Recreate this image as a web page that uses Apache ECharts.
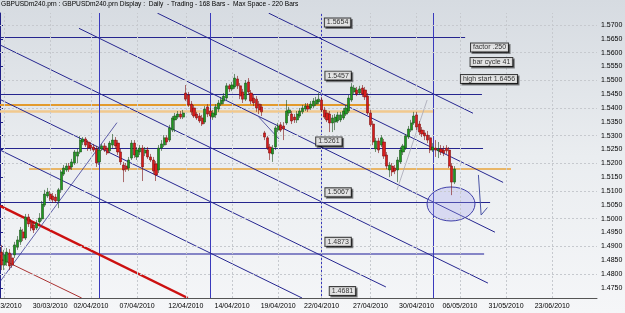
<!DOCTYPE html>
<html><head><meta charset="utf-8">
<script src="https://cdn.jsdelivr.net/npm/echarts@6.0.0/dist/echarts.min.js"></script>
<style>html,body{margin:0;padding:0;background:#eef0f3;}#c{width:625px;height:313px;}</style>
</head><body><div id="c"></div><script>
// ---- data (prices) ----
const opens = [
1.4879,1.4832,1.4843,1.4876,1.4858,1.4869,1.4897,1.4916,1.4952,1.4930,
1.5006,1.4988,1.4977,1.4966,1.4988,1.4999,1.5049,1.5082,1.5089,1.5082,
1.5078,1.5064,1.5104,1.5161,1.5176,1.5190,1.5187,1.5201,1.5226,1.5241,
1.5277,1.5288,1.5277,1.5266,1.5259,1.5252,1.5205,1.5252,1.5263,1.5255,
1.5245,1.5266,1.5284,1.5273,1.5241,1.5194,1.5190,1.5183,1.5219,1.5273,
1.5223,1.5241,1.5255,1.5237,1.5248,1.5223,1.5212,1.5198,1.5176,1.5255,
1.5266,1.5292,1.5284,1.5320,1.5357,1.5367,1.5378,1.5367,1.5454,1.5447,
1.5414,1.5400,1.5378,1.5371,1.5364,1.5349,1.5404,1.5389,1.5367,1.5375,
1.5396,1.5414,1.5425,1.5436,1.5480,1.5469,1.5476,1.5505,1.5480,1.5458,
1.5432,1.5494,1.5454,1.5436,1.5432,1.5414,1.5404,1.5310,1.5292,1.5259,
1.5234,1.5259,1.5320,1.5339,1.5335,1.5346,1.5382,1.5378,1.5367,1.5357,
1.5371,1.5386,1.5396,1.5407,1.5400,1.5407,1.5414,1.5422,1.5429,1.5393,
1.5382,1.5378,1.5346,1.5349,1.5353,1.5357,1.5364,1.5378,1.5389,1.5429,
1.5458,1.5465,1.5454,1.5472,1.5465,1.5443,1.5382,1.5342,1.5252,1.5281,
1.5266,1.5277,1.5230,1.5176,1.5190,1.5183,1.5176,1.5205,1.5241,1.5255,
1.5295,1.5320,1.5346,1.5375,1.5342,1.5320,1.5310,1.5302,1.5292,1.5248,
1.5255,1.5245,1.5252,1.5248,1.5255,1.5248,1.5190,1.5132];
const closes = [
1.4832,1.4869,1.4879,1.4829,1.4832,1.4905,1.4923,1.4959,1.4930,1.5006,
1.4981,1.4966,1.4959,1.4984,1.5002,1.5053,1.5089,1.5096,1.5071,1.5067,
1.5064,1.5104,1.5169,1.5183,1.5190,1.5179,1.5205,1.5241,1.5241,1.5284,
1.5288,1.5266,1.5255,1.5255,1.5248,1.5201,1.5248,1.5263,1.5248,1.5237,
1.5273,1.5284,1.5263,1.5241,1.5205,1.5176,1.5179,1.5212,1.5273,1.5230,
1.5248,1.5255,1.5187,1.5248,1.5223,1.5212,1.5172,1.5158,1.5255,1.5270,
1.5292,1.5277,1.5328,1.5364,1.5371,1.5378,1.5367,1.5382,1.5432,1.5411,
1.5386,1.5371,1.5364,1.5353,1.5342,1.5396,1.5378,1.5371,1.5382,1.5404,
1.5418,1.5429,1.5443,1.5480,1.5469,1.5483,1.5508,1.5480,1.5443,1.5432,
1.5490,1.5458,1.5425,1.5418,1.5400,1.5393,1.5386,1.5295,1.5255,1.5237,
1.5255,1.5328,1.5335,1.5320,1.5324,1.5389,1.5393,1.5353,1.5357,1.5378,
1.5389,1.5400,1.5407,1.5396,1.5414,1.5425,1.5429,1.5432,1.5393,1.5367,
1.5357,1.5346,1.5364,1.5367,1.5375,1.5375,1.5389,1.5400,1.5436,1.5476,
1.5472,1.5451,1.5469,1.5451,1.5440,1.5382,1.5339,1.5277,1.5281,1.5248,
1.5292,1.5226,1.5190,1.5194,1.5169,1.5172,1.5212,1.5248,1.5263,1.5299,
1.5324,1.5346,1.5371,1.5331,1.5313,1.5306,1.5299,1.5284,1.5248,1.5259,
1.5248,1.5252,1.5241,1.5237,1.5245,1.5190,1.5132,1.5179];
const lows = [
1.4814,1.4814,1.4829,1.4814,1.4822,1.4858,1.4887,1.4905,1.4919,1.4923,
1.4970,1.4955,1.4948,1.4959,1.4977,1.4991,1.5042,1.5075,1.5064,1.5057,
1.5057,1.5038,1.5093,1.5154,1.5169,1.5169,1.5176,1.5194,1.5201,1.5234,
1.5266,1.5259,1.5245,1.5245,1.5241,1.5187,1.5194,1.5245,1.5241,1.5230,
1.5237,1.5255,1.5252,1.5230,1.5194,1.5132,1.5169,1.5172,1.5212,1.5219,
1.5212,1.5230,1.5136,1.5226,1.5216,1.5205,1.5161,1.5136,1.5165,1.5245,
1.5259,1.5266,1.5277,1.5313,1.5313,1.5360,1.5360,1.5360,1.5425,1.5404,
1.5375,1.5364,1.5357,1.5346,1.5335,1.5342,1.5367,1.5360,1.5357,1.5364,
1.5386,1.5407,1.5414,1.5429,1.5458,1.5461,1.5469,1.5469,1.5432,1.5418,
1.5425,1.5447,1.5414,1.5407,1.5386,1.5378,1.5371,1.5284,1.5248,1.5212,
1.5205,1.5248,1.5313,1.5313,1.5284,1.5339,1.5371,1.5342,1.5346,1.5346,
1.5364,1.5378,1.5389,1.5386,1.5393,1.5400,1.5407,1.5414,1.5386,1.5360,
1.5349,1.5313,1.5313,1.5320,1.5346,1.5349,1.5357,1.5371,1.5382,1.5422,
1.5451,1.5443,1.5447,1.5440,1.5429,1.5375,1.5331,1.5266,1.5241,1.5237,
1.5259,1.5216,1.5179,1.5150,1.5154,1.5161,1.5132,1.5198,1.5230,1.5248,
1.5288,1.5313,1.5339,1.5320,1.5302,1.5295,1.5284,1.5273,1.5237,1.5241,
1.5223,1.5219,1.5230,1.5226,1.5234,1.5183,1.5085,1.5125];
const highs = [
1.4905,1.4887,1.4894,1.4890,1.4872,1.4916,1.4937,1.4970,1.4963,1.5017,
1.5017,1.4999,1.4988,1.4995,1.5020,1.5064,1.5104,1.5111,1.5100,1.5093,
1.5089,1.5111,1.5176,1.5194,1.5201,1.5201,1.5216,1.5248,1.5252,1.5299,
1.5295,1.5295,1.5284,1.5277,1.5270,1.5263,1.5259,1.5270,1.5273,1.5263,
1.5281,1.5306,1.5295,1.5284,1.5252,1.5205,1.5201,1.5223,1.5284,1.5284,
1.5259,1.5266,1.5266,1.5259,1.5259,1.5234,1.5223,1.5208,1.5266,1.5284,
1.5302,1.5302,1.5339,1.5371,1.5382,1.5389,1.5389,1.5393,1.5483,1.5458,
1.5425,1.5411,1.5386,1.5382,1.5375,1.5407,1.5414,1.5400,1.5393,1.5414,
1.5429,1.5440,1.5454,1.5490,1.5487,1.5494,1.5523,1.5516,1.5490,1.5469,
1.5501,1.5508,1.5465,1.5447,1.5443,1.5425,1.5414,1.5317,1.5299,1.5270,
1.5266,1.5335,1.5346,1.5349,1.5349,1.5429,1.5404,1.5389,1.5378,1.5389,
1.5400,1.5411,1.5418,1.5418,1.5425,1.5436,1.5440,1.5454,1.5440,1.5404,
1.5393,1.5389,1.5375,1.5378,1.5386,1.5386,1.5400,1.5411,1.5447,1.5490,
1.5483,1.5476,1.5480,1.5483,1.5476,1.5454,1.5393,1.5353,1.5292,1.5292,
1.5302,1.5288,1.5241,1.5205,1.5201,1.5194,1.5223,1.5259,1.5270,1.5306,
1.5335,1.5357,1.5386,1.5386,1.5353,1.5331,1.5320,1.5317,1.5302,1.5273,
1.5284,1.5277,1.5266,1.5263,1.5266,1.5259,1.5201,1.5190];

const maxSpaceBars = 220;
const priceTicks = [1.4750,1.4800,1.4850,1.4900,1.4950,1.5000,1.5050,1.5100,1.5150,1.5200,
  1.5250,1.5300,1.5350,1.5400,1.5450,1.5500,1.5550,1.5600,1.5650,1.5700];
const priceMin = 1.47131, priceMax = 1.57434;
const dateLabels = ['25/03/2010','30/03/2010','02/04/2010','07/04/2010','12/04/2010','14/04/2010',
  '19/04/2010','22/04/2010','27/04/2010','30/04/2010','06/05/2010','31/05/2010','23/06/2010'];
const dateLabelBars = [1,18,33,50,68,85,102,118,136,153,169,186,203];

// drawn objects (bar index, price)
const levelPrices  = [1.5654, 1.5450, 1.5255, 1.5059];
const levelEndBars = [171.4, 177.6, 178.0, 180.6];
const lowLevelPrice = 1.4873, lowLevelEndBar = 178.4;
const orangePrices    = [1.5411, 1.5388, 1.5179];
const orangeStartBars = [0, 0, 10.7];
const orangeEndBars   = [136.4, 160.0, 188.3];
const cycleBars = [36.5, 77.5, 118.5, 159.5];
// channel lines: [startBar, startPrice, endBar, endPrice]
const channelLines = [
  [99.0, 1.5743, 174.3, 1.5381],
  [58.0, 1.5743, 185.4, 1.5131],
  [29.1, 1.5688, 182.4, 1.4951],
  [0, 1.5628, 179.8, 1.4767],
  [0, 1.5431, 142.2, 1.4753],
  [0, 1.5248, 111.3, 1.47131]
];
const redLine = [0, 1.5046, 69.2, 1.47131];
const redThinLine = [0, 1.4856, 30.1, 1.47131];
const riseLine = [0, 1.4772, 43.1, 1.5347];
const greyRiseLine = [146.3, 1.5104, 157.4, 1.5429];
const shortLine = [95.4, 1.5367, 102.8, 1.5288];
const arrowBars = [176.3, 177.3, 179.6];
const arrowPrices = [1.5158, 1.5013, 1.5040];
const ellipse = [166.2, 1.5053, 8.84, 0.00615];
const boxTexts  = ['1.5654','1.5457','1.5261','1.5067','1.4873','1.4681','factor .250','bar cycle 41','high start 1.6456'];
const boxBars   = [124.4, 124.6, 121.2, 124.6, 124.6, 126.2, 180.4, 181.1, 180.2];
const boxPrices = [1.5709, 1.5517, 1.5279, 1.5095, 1.4916, 1.4738, 1.5619, 1.5566, 1.5505];
const titleText = 'GBPUSDm240.prn : GBPUSDm240.prn Display :  Daily  - Trading - 168 Bars -  Max Space - 220 Bars';

// ---- build ----
const candles = opens.map((o, i) => [o, closes[i], lows[i], highs[i]]);
const categories = [];
for (let i = 0; i < maxSpaceBars; i++) {
  const k = dateLabelBars.indexOf(i);
  categories.push(k >= 0 ? dateLabels[k] : '');
}
const NAVY = '#1f1f86';
const seg = (a, style) => ({coords: [[a[0], a[1]], [a[2], a[3]]], lineStyle: Object.assign({opacity: 1}, style)});
const lineData = [];
levelPrices.forEach((p, i) => lineData.push(seg([0, p, levelEndBars[i], p], {color: '#25258e', width: 1.2})));
lineData.push(seg([0, lowLevelPrice, lowLevelEndBar, lowLevelPrice], {color: '#8585c6', width: 2}));
const orangeColors = ['#e39a2c', '#f1c98e', '#e8a33a'];
const orangeWidths = [2, 2.5, 1.6];
orangePrices.forEach((p, i) => lineData.push(seg([orangeStartBars[i], p, orangeEndBars[i], p], {color: orangeColors[i], width: orangeWidths[i]})));
cycleBars.forEach(b => lineData.push(seg([b, priceMin, b, priceMax], {color: '#3a3abc', width: 1})));
channelLines.forEach(c => lineData.push(seg(c, {color: '#262690', width: 1})));
lineData.push(seg(redLine, {color: '#cc1010', width: 2.4}));
lineData.push(seg(redThinLine, {color: '#a83030', width: 1}));
lineData.push(seg(riseLine, {color: '#3a3a96', width: 0.8}));
lineData.push(seg(greyRiseLine, {color: '#a6a6b4', width: 0.8}));
lineData.push(seg(shortLine, {color: '#3a3a96', width: 0.8}));

const gridMarks = priceTicks.map(v => ({yAxis: v})).concat(dateLabelBars.map(b => ({xAxis: b + 0.5})));
const font = 'Liberation Sans, Arial, sans-serif';

const chart = echarts.init(document.getElementById('c'), null, {renderer: 'canvas'});
chart.setOption({
  animation: false,
  backgroundColor: {type: 'linear', x: 0, y: 0, x2: 0, y2: 1,
    colorStops: [{offset: 0, color: '#d6dbe1'}, {offset: 0.5, color: '#eaedf0'}, {offset: 1, color: '#f5f6f8'}]},
  title: {text: titleText, left: 1, top: 1, padding: 0, textStyle: {fontSize: 6.6, fontWeight: 'normal', color: '#000', fontFamily: font}},
  grid: {left: 0, right: 28, top: 13, bottom: 15, containLabel: false, outerBoundsMode: 'none'},
  xAxis: [
    {type: 'category', data: categories, boundaryGap: true,
     axisLine: {show: true, lineStyle: {color: '#555', width: 1}}, axisTick: {show: false},
     axisLabel: {interval: 0, fontSize: 7, color: '#000', margin: 5, fontFamily: font,
       alignMinLabel: 'center', alignMaxLabel: 'center', hideOverlap: false}, splitLine: {show: false}},
    {type: 'value', min: 0, max: maxSpaceBars, show: false}
  ],
  yAxis: {type: 'value', position: 'right', min: priceMin, max: priceMax,
    axisLine: {show: true, lineStyle: {color: NAVY, width: 1}},
    axisTick: {show: true, customValues: priceTicks, length: 3, lineStyle: {color: NAVY}},
    axisLabel: {customValues: priceTicks, formatter: v => v.toFixed(4), fontSize: 7, color: '#000', margin: 4, fontFamily: font},
    splitLine: {show: false}},
  series: [
    {type: 'line', xAxisIndex: 1, yAxisIndex: 0, data: [], silent: true, z: 1,
     markLine: {symbol: 'none', silent: true, label: {show: false}, animation: false,
       lineStyle: {color: '#c6c9ce', type: [2, 2], width: 1}, data: gridMarks}},
    {type: 'lines', coordinateSystem: 'cartesian2d', xAxisIndex: 1, yAxisIndex: 0, z: 2, silent: true,
     lineStyle: {opacity: 1}, data: lineData},
    {type: 'custom', xAxisIndex: 1, yAxisIndex: 0, z: 3, silent: true, data: [ellipse],
     renderItem: (params, api) => {
       const c = api.coord([api.value(0), api.value(1)]);
       const e = api.coord([api.value(0) + api.value(2), api.value(1) - api.value(3)]);
       return {type: 'ellipse', shape: {cx: c[0], cy: c[1], rx: Math.abs(e[0] - c[0]), ry: Math.abs(e[1] - c[1])},
         style: {fill: 'rgba(165,165,240,0.3)', stroke: '#4040a8', lineWidth: 1}};
     }},
    {type: 'lines', coordinateSystem: 'cartesian2d', xAxisIndex: 1, yAxisIndex: 0, z: 3, polyline: true, silent: true,
     lineStyle: {opacity: 1},
     data: [{coords: arrowBars.map((b, i) => [b, arrowPrices[i]]), lineStyle: {color: '#4a54a6', width: 1, opacity: 1}}]},
    {type: 'candlestick', xAxisIndex: 0, yAxisIndex: 0, data: candles, barWidth: 2.6, z: 5,
     itemStyle: {color: '#1f9a1f', color0: '#d81c1c', borderColor: '#1c4f1c', borderColor0: '#7e1010', borderWidth: 0.6}},
    {type: 'scatter', xAxisIndex: 1, yAxisIndex: 0, z: 10, silent: true, symbolSize: 1,
     itemStyle: {color: 'transparent'},
     data: boxTexts.map((t, i) => ({name: t, value: [boxBars[i], boxPrices[i]]})),
     label: {show: true, position: 'inside', formatter: '{b}', fontSize: 7, color: '#000', fontFamily: font,
       backgroundColor: '#fff', borderColor: '#111', borderWidth: 1, padding: [1, 2, 0, 2],
       shadowColor: 'rgba(0,0,0,0.55)', shadowOffsetX: 1.5, shadowOffsetY: 1.5, shadowBlur: 0}}
  ]
});
</script></body></html>
